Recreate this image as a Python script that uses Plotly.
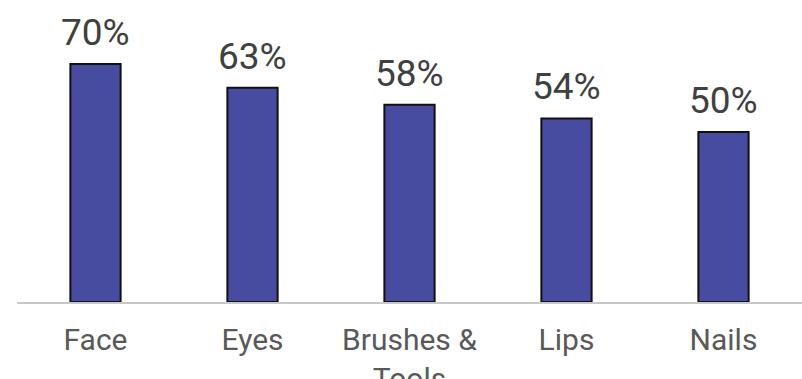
import plotly.graph_objects as go

categories = ["Face", "Eyes", "Brushes &<br>Tools", "Lips", "Nails"]
values = [70, 63, 58, 54, 50]
labels = ["70%", "63%", "58%", "54%", "50%"]

fig = go.Figure()
fig.add_trace(go.Bar(
    x=categories, y=values,
    marker=dict(color="#484ca0", line=dict(color="#111111", width=2)),
    width=0.32,
    hoverinfo="skip",
))
for c, v, t in zip(categories, values, labels):
    fig.add_annotation(x=c, y=v, text=t, showarrow=False, yanchor="bottom",
                       yshift=8, font=dict(family="Roboto", size=37, color="#404040"))

fig.update_layout(
    width=802, height=379,
    margin=dict(l=16.5, r=0, t=30, b=77, autoexpand=False),
    paper_bgcolor="white", plot_bgcolor="white",
    showlegend=False,
    font=dict(family="Roboto"),
)
fig.update_xaxes(showline=True, linecolor="#c8c8c8", linewidth=2, automargin=False,
                 showgrid=False, ticks="", ticklabelstandoff=10,
                 tickfont=dict(family="Roboto", size=30, color="#595959"))
fig.update_yaxes(range=[0, 80], visible=False, showgrid=False, zeroline=False,
                 automargin=False)

fig.write_html("out.html")
